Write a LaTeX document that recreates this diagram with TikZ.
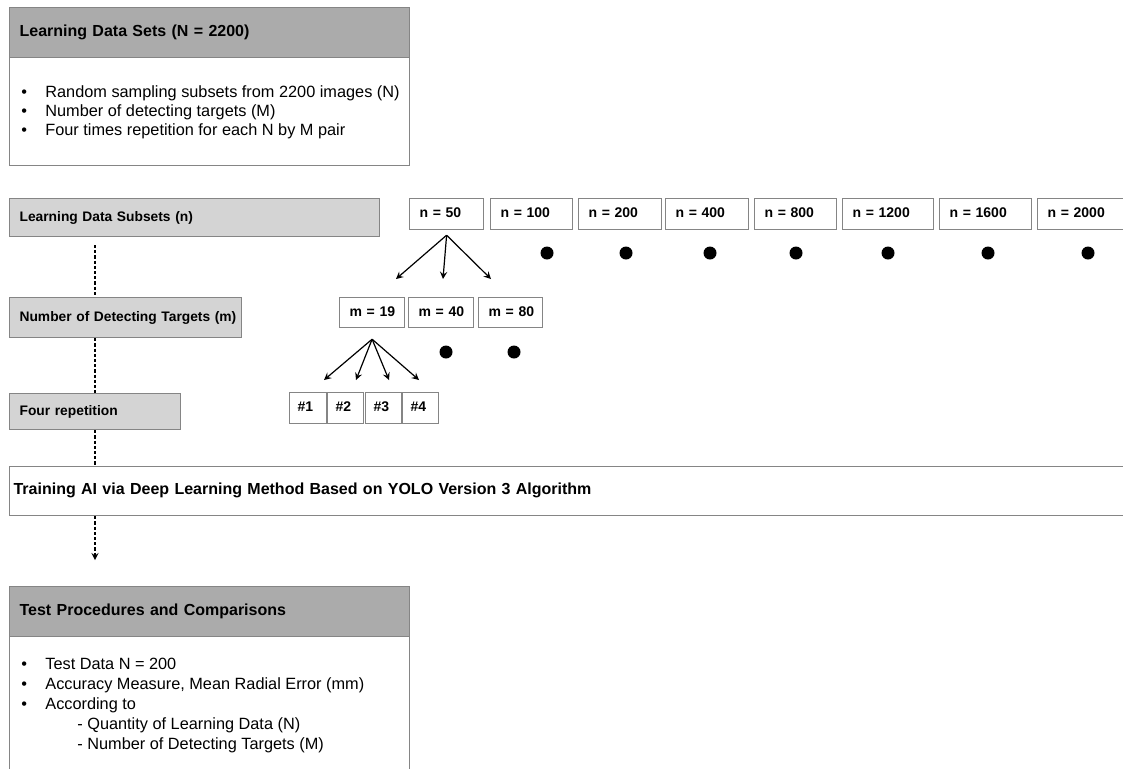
\documentclass[tikz,border=0pt]{standalone}
\usepackage{fontspec}
\setmainfont{Liberation Sans}
\usepackage{tikz}
\usetikzlibrary{arrows}
\usetikzlibrary{positioning}

\definecolor{boxgray}{HTML}{858585}
\definecolor{hdrgray}{HTML}{ABABAB}
\definecolor{lblgray}{HTML}{D4D4D4}

\tikzset{>=stealth,
  hdrbox/.style={draw=boxgray, fill=hdrgray, line width=0.6pt, anchor=north west,
    inner xsep=5pt, minimum height=25pt, text width=190pt, align=left,
    font=\bfseries\fontsize{8}{9.6}\selectfont},
  bodybox/.style={draw=boxgray, fill=white, line width=0.6pt, anchor=north west,
    minimum width=200pt, inner sep=0pt},
  lblbox/.style={draw=boxgray, fill=lblgray, line width=0.6pt, anchor=north west,
    inner xsep=5pt, align=left, text height=5.2pt, text depth=1.4pt,
    font=\bfseries\fontsize{6.9}{8.4}\selectfont},
  valbox/.style={draw=boxgray, fill=white, line width=0.6pt, anchor=north west,
    inner xsep=5pt, minimum height=15.5pt, align=left, text height=5.2pt, text depth=1.4pt,
    font=\bfseries\fontsize{7}{8.4}\selectfont},
  bulletline/.style={anchor=base west, inner sep=0pt, font=\fontsize{8.15}{9.6}\selectfont},
  dot/.style={circle, fill=black, inner sep=0pt, minimum size=6.5pt},
  spine/.style={dash pattern=on 1.6pt off 1pt, line width=0.55pt},
  fan/.style={->, line width=0.6pt}
}

\begin{document}
\begin{tikzpicture}[x=0.5pt, y=-0.5pt]

    \path[use as bounding box, clip] (0,0) rectangle (1123,768);

    % top block
    \node[bodybox, minimum height=54pt] (setsbody) at (9,57) {};
    \node[hdrbox] (setshead) at (9,7) {Learning Data Sets (N = 2200)};
    \node[bulletline] (setsA) at (21,97) {\makebox[12pt][l]{•}Random sampling subsets from 2200 images (N)};
    \node[bulletline] (setsB) at (21,116) {\makebox[12pt][l]{•}Number of detecting targets (M)};
    \node[bulletline] (setsC) at (21,135) {\makebox[12pt][l]{•}Four times repetition for each N by M pair};

    % row labels
    \node[lblbox, text width=175pt, minimum height=19pt] (subsets) at (9,198) {\mbox{Learning Data Subsets (n)}};
    \node[lblbox, text width=106pt, minimum height=20pt] (detect) at (9,297) {\mbox{Number of Detecting Targets (m)}};
    \node[lblbox, text width=75.5pt, minimum height=18pt] (repeat) at (9,393) {\mbox{Four repetition}};

    % subsets n
    \node[valbox, text width=27pt] (n50) at (409,198) {\mbox{n = 50}};
    \node[valbox, text width=31pt] (n100) at (490,198) {\mbox{n = 100}};
    \node[valbox, text width=31.5pt] (n200) at (578,198) {\mbox{n = 200}};
    \node[valbox, text width=31.5pt] (n400) at (665,198) {\mbox{n = 400}};
    \node[valbox, text width=31pt] (n800) at (754,198) {\mbox{n = 800}};
    \node[valbox, text width=35.5pt] (n1200) at (842,198) {\mbox{n = 1200}};
    \node[valbox, text width=36pt] (n1600) at (939,198) {\mbox{n = 1600}};
    \node[valbox, text width=36.5pt] (n2000) at (1037,198) {\mbox{n = 2000}};

    \node[dot] (dn100) at (547,253) {};
    \node[dot] (dn200) at (626,253) {};
    \node[dot] (dn400) at (710,253) {};
    \node[dot] (dn800) at (796,253) {};
    \node[dot] (dn1200) at (888,253) {};
    \node[dot] (dn1600) at (988,253) {};
    \node[dot] (dn2000) at (1088,253) {};

    % targets m
    \node[valbox, text width=22.5pt, minimum height=15pt] (m19) at (339,297) {\mbox{m = 19}};
    \node[valbox, text width=22.5pt, minimum height=15pt] (m40) at (408,297) {\mbox{m = 40}};
    \node[valbox, text width=22pt, minimum height=15pt] (m80) at (478,297) {\mbox{m = 80}};

    \node[dot] (dm40) at (446,352) {};
    \node[dot] (dm80) at (514,352) {};

    \coordinate (tipA) at (396,279);
    \coordinate (tipB) at (443,279);
    \coordinate (tipC) at (491,279);
    \draw[fan] ([yshift=-2.5pt]n50.south) -- (tipA);
    \draw[fan] ([yshift=-2.5pt]n50.south) -- (tipB);
    \draw[fan] ([yshift=-2.5pt]n50.south) -- (tipC);

    % repetitions
    \node[valbox, inner xsep=4pt, text width=10.5pt] (rep1) at (289,392) {\#1};
    \node[valbox, inner xsep=4pt, text width=10pt] (rep2) at (327,392) {\#2};
    \node[valbox, inner xsep=4pt, text width=10pt] (rep3) at (365,392) {\#3};
    \node[valbox, inner xsep=4pt, text width=10pt] (rep4) at (402,392) {\#4};

    \coordinate (tipD) at (324,380);
    \coordinate (tipE) at (356,380);
    \coordinate (tipF) at (389,380);
    \coordinate (tipG) at (419,380);
    \draw[fan] ([yshift=-5.5pt]m19.south) -- (tipD);
    \draw[fan] ([yshift=-5.5pt]m19.south) -- (tipE);
    \draw[fan] ([yshift=-5.5pt]m19.south) -- (tipF);
    \draw[fan] ([yshift=-5.5pt]m19.south) -- (tipG);

    % training
    \node[valbox, inner xsep=2pt, text width=556.5pt, minimum height=24.5pt,
      font=\bfseries\fontsize{8}{9.6}\selectfont] (train) at (9,466)
      {Training AI via Deep Learning Method Based on YOLO Version 3 Algorithm};

    % test block
    \node[bodybox, minimum height=82pt] (testbody) at (9,636) {};
    \node[hdrbox] (testhead) at (9,586) {Test Procedures and Comparisons};
    \node[bulletline] (testA) at (21,669) {\makebox[12pt][l]{•}Test Data N = 200};
    \node[bulletline] (testB) at (21,689) {\makebox[12pt][l]{•}Accuracy Measure, Mean Radial Error (mm)};
    \node[bulletline] (testC) at (21,709) {\makebox[12pt][l]{•}According to};
    \node[bulletline] (testD) at (77,729) {- Quantity of Learning Data (N)};
    \node[bulletline] (testE) at (77,749) {- Number of Detecting Targets (M)};

    % dashed spine
    \coordinate (spinetop) at (95,245);
    \coordinate (spineend) at (95,560);
    \draw[spine] (spinetop) -- (detect.north -| spinetop);
    \draw[spine] (detect.south -| spinetop) -- (repeat.north -| spinetop);
    \draw[spine] (repeat.south -| spinetop) -- (train.north -| spinetop);
    \draw[spine, ->] (train.south -| spinetop) -- (spineend);

\end{tikzpicture}
\end{document}
